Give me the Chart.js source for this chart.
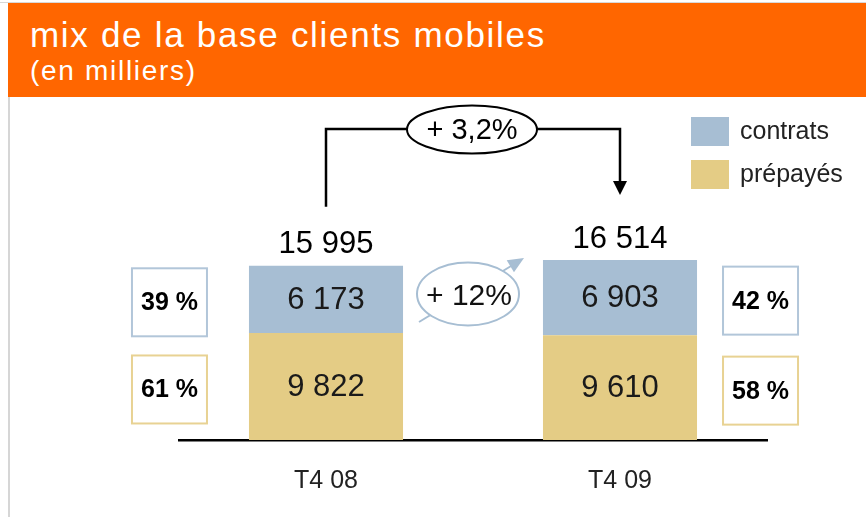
<!DOCTYPE html>
<html>
<head>
<meta charset="utf-8">
<script src="https://cdn.jsdelivr.net/npm/chart.js@4"></script>
<style>
  body { margin: 0; background: #fff; }
  #wrap { position: relative; width: 866px; height: 517px; overflow: hidden; }
  #topline { position: absolute; left: 0; top: 2px; width: 866px; height: 1px; background: #d8d8d8; }
  #leftline { position: absolute; left: 8px; top: 97px; width: 2px; height: 420px; background: #d6d6d6; }
  #header { position: absolute; left: 8px; top: 3px; width: 858px; height: 94px; background: #ff6600; color: #fff;
    font-family: "Liberation Sans", Arial, sans-serif; }
  #header .t1 { position: absolute; left: 22px; top: 12px; font-size: 35px; line-height: 40px; letter-spacing: 1.7px; white-space: nowrap; }
  #header .t2 { position: absolute; left: 22px; top: 51px; font-size: 28px; line-height: 34px; letter-spacing: 1.7px; white-space: nowrap; }
  canvas { position: absolute; left: 0; top: 0; }
</style>
</head>
<body>
<div id="wrap">
  <canvas id="mix-chart" width="866" height="517"></canvas>
  <div id="topline"></div>
  <div id="header">
    <div class="t1">mix de la base clients mobiles</div>
    <div class="t2">(en milliers)</div>
  </div>
  <div id="leftline"></div>
</div>
<script>
//data - base clients mobiles, en milliers
const quarters = ["T4 08", "T4 09"];
const contrats = [6173, 6903];
const prepayes = [9822, 9610];
const totals = [15995, 16514];
const seriesNames = ["contrats", "prépayés"];

const blue = '#a7bed3';
const yellow = '#e4cc85';
const blueLine = '#b2c6d9';
const yellowLine = '#e8d293';

//"15995" -> "15 995"
function fmt(n) {
	return String(Math.round(n)).replace(/\B(?=(\d{3})+(?!\d))/g, ' ');
}
function pctFmt(v) {
	return '+ ' + v.toFixed(1).replace('.', ',') + '%';
}

//draws labels, boxes, arrows and legend on top of the bars
const annotations = {
	id: 'annotations',
	afterDatasetsDraw(chart) {
		const ctx = chart.ctx;
		const prep = chart.getDatasetMeta(0).data;
		const cont = chart.getDatasetMeta(1).data;
		ctx.save();
		ctx.textAlign = 'center';
		ctx.textBaseline = 'middle';

		//values inside segments
		ctx.fillStyle = '#1a1a1a';
		ctx.font = '31px "Liberation Sans", Arial, sans-serif';
		quarters.forEach((q, i) => {
			ctx.fillText(fmt(contrats[i]), cont[i].x, (cont[i].y + cont[i].base) / 2 + 1);
			ctx.fillText(fmt(prepayes[i]), prep[i].x, (prep[i].y + prep[i].base) / 2 + 1);
		});

		//totals above bars
		ctx.fillStyle = '#000';
		quarters.forEach((q, i) => {
			ctx.fillText(fmt(totals[i]), cont[i].x, cont[i].y - 21);
		});

		//share boxes (left of first bar, right of second)
		ctx.font = 'bold 25px "Liberation Sans", Arial, sans-serif';
		ctx.lineWidth = 2;
		quarters.forEach((q, i) => {
			const half = cont[i].width / 2;
			const bx = i === 0 ? cont[i].x - half - 42 - 75 : cont[i].x + half + 26;
			const parts = [
				[contrats[i], cont[i], blueLine],
				[prepayes[i], prep[i], yellowLine]
			];
			parts.forEach(([v, el, col]) => {
				const cy = (el.y + el.base) / 2 + 3;
				ctx.strokeStyle = col;
				ctx.fillStyle = '#fff';
				ctx.fillRect(bx, cy - 34, 75, 68);
				ctx.strokeRect(bx, cy - 34, 75, 68);
				ctx.fillStyle = '#000';
				ctx.fillText(Math.round(v / totals[i] * 100) + ' %', bx + 37.5, cy + 1);
			});
		});

		//total growth connector
		const x0 = cont[0].x, x1 = cont[1].x;
		const hy = 129;
		ctx.strokeStyle = '#000';
		ctx.lineWidth = 2.5;
		ctx.beginPath();
		ctx.moveTo(x0, cont[0].y - 59);
		ctx.lineTo(x0, hy);
		ctx.lineTo(x1, hy);
		ctx.lineTo(x1, 182);
		ctx.stroke();
		ctx.fillStyle = '#000';
		ctx.beginPath();
		ctx.moveTo(x1 - 7, 181);
		ctx.lineTo(x1 + 7, 181);
		ctx.lineTo(x1, 195);
		ctx.closePath();
		ctx.fill();

		const mx = (x0 + x1) / 2 - 1;
		ctx.lineWidth = 2;
		ctx.fillStyle = '#fff';
		ctx.beginPath();
		ctx.ellipse(mx, hy + 0.5, 65, 24, 0, 0, Math.PI * 2);
		ctx.fill();
		ctx.stroke();
		ctx.fillStyle = '#000';
		ctx.font = '29px "Liberation Sans", Arial, sans-serif';
		ctx.fillText(pctFmt((totals[1] / totals[0] - 1) * 100), mx, hy + 2);

		//contrats growth bubble
		const ex = mx - 4, ey = 294;
		ctx.strokeStyle = blue;
		ctx.fillStyle = blue;
		ctx.lineWidth = 2;
		ctx.beginPath();
		ctx.moveTo(ex - 49, ey + 28);
		ctx.lineTo(ex + 48, ey - 31);
		ctx.stroke();
		const ang = Math.atan2(-64, 105);
		const tx = ex + 56, ty = ey - 36;
		ctx.beginPath();
		ctx.moveTo(tx, ty);
		ctx.lineTo(tx - 16 * Math.cos(ang) + 7 * Math.sin(ang), ty - 16 * Math.sin(ang) - 7 * Math.cos(ang));
		ctx.lineTo(tx - 16 * Math.cos(ang) - 7 * Math.sin(ang), ty - 16 * Math.sin(ang) + 7 * Math.cos(ang));
		ctx.closePath();
		ctx.fill();
		ctx.fillStyle = '#fff';
		ctx.beginPath();
		ctx.ellipse(ex, ey, 51, 31.5, 0, 0, Math.PI * 2);
		ctx.fill();
		ctx.stroke();
		ctx.fillStyle = '#111';
		ctx.font = '30px "Liberation Sans", Arial, sans-serif';
		const cg = Math.round((contrats[1] / contrats[0] - 1) * 100);
		ctx.fillText('+ ' + cg + '%', ex + 1, ey + 3);

		//legend
		ctx.textAlign = 'left';
		ctx.font = '25px "Liberation Sans", Arial, sans-serif';
		[[blue, seriesNames[0], 117], [yellow, seriesNames[1], 160]].forEach(([col, name, y]) => {
			ctx.fillStyle = col;
			ctx.fillRect(691, y, 38, 29);
			ctx.fillStyle = '#222';
			ctx.fillText(name, 740, y + 15);
		});
		ctx.restore();
	}
};

const mixCanvas = document.getElementById("mix-chart");
let mixChart = new Chart(mixCanvas, {
	type: 'bar',
	data: {
		labels: quarters,
		datasets: [{
			label: seriesNames[1],
			data: prepayes,
			backgroundColor: yellow,
			borderWidth: 0
		}, {
			label: seriesNames[0],
			data: contrats,
			backgroundColor: blue,
			borderWidth: 0
		}]
	},
	options: {
		responsive: false,
		animation: false,
		layout: {
			padding: { left: 179, right: 99, top: 222, bottom: 0 }
		},
		datasets: {
			bar: { barPercentage: 1, categoryPercentage: 0.524 }
		},
		scales: {
			x: {
				stacked: true,
				grid: { display: false, drawTicks: false },
				border: { display: true, color: '#000', width: 2.5 },
				ticks: {
					color: '#222',
					padding: 26,
					font: { family: '"Liberation Sans", Arial, sans-serif', size: 25 }
				},
				afterFit: (scale) => { scale.height = 77; }
			},
			y: {
				stacked: true,
				display: false,
				min: 0,
				max: 20000
			}
		},
		plugins: {
			legend: { display: false },
			tooltip: { enabled: false }
		}
	},
	plugins: [annotations]
});
</script>
</body>
</html>
